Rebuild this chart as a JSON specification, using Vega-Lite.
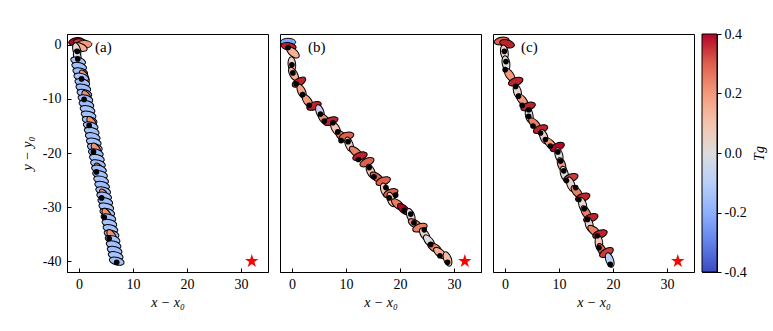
{
  "$schema": "https://vega.github.io/schema/vega-lite/v6.json",
  "background": "white",
  "padding": {"left": 19, "top": 26, "right": 5, "bottom": 5},
  "config": {
    "view": {"stroke": "black", "strokeWidth": 1},
    "font": "Liberation Serif",
    "axis": {"domainColor": "black", "tickColor": "black", "labelColor": "black", "titleColor": "black", "labelFont": "Liberation Serif", "titleFont": "Liberation Serif", "labelFontSize": 14, "titleFontSize": 14, "titleFontWeight": "normal", "grid": false}
  },
  "datasets": {
    "ell": [
      {"p":"a","x":-0.5,"y":0.6,"tg":0.4,"ang":-10},
      {"p":"a","x":0.4,"y":0.4,"tg":0.35,"ang":10},
      {"p":"a","x":1.0,"y":0.1,"tg":0.2,"ang":0},
      {"p":"a","x":0.2,"y":-0.4,"tg":0.15,"ang":20},
      {"p":"a","x":-0.4,"y":-1.0,"tg":0.02,"ang":75},
      {"p":"a","x":-0.3,"y":-2.2,"tg":-0.05,"ang":80},
      {"p":"a","x":-0.14,"y":-3,"tg":-0.14,"ang":15},
      {"p":"a","x":0.05,"y":-4,"tg":-0.15,"ang":15},
      {"p":"a","x":0.25,"y":-5,"tg":-0.16,"ang":15},
      {"p":"a","x":1.0,"y":-5.9,"tg":0.22,"ang":60},
      {"p":"a","x":0.44,"y":-6,"tg":-0.14,"ang":15},
      {"p":"a","x":0.63,"y":-7,"tg":-0.15,"ang":15},
      {"p":"a","x":0.82,"y":-8,"tg":-0.16,"ang":15},
      {"p":"a","x":1.02,"y":-9,"tg":-0.14,"ang":15},
      {"p":"a","x":1.47,"y":-9.7,"tg":0.22,"ang":60},
      {"p":"a","x":1.21,"y":-10,"tg":-0.15,"ang":15},
      {"p":"a","x":1.40,"y":-11,"tg":-0.16,"ang":15},
      {"p":"a","x":1.60,"y":-12,"tg":-0.14,"ang":15},
      {"p":"a","x":1.79,"y":-13,"tg":-0.15,"ang":15},
      {"p":"a","x":1.98,"y":-14,"tg":-0.16,"ang":15},
      {"p":"a","x":2.4,"y":-14.5,"tg":0.22,"ang":60},
      {"p":"a","x":2.18,"y":-15,"tg":-0.14,"ang":15},
      {"p":"a","x":2.37,"y":-16,"tg":-0.15,"ang":15},
      {"p":"a","x":2.56,"y":-17,"tg":-0.16,"ang":15},
      {"p":"a","x":2.75,"y":-18,"tg":-0.14,"ang":15},
      {"p":"a","x":2.95,"y":-19,"tg":-0.15,"ang":15},
      {"p":"a","x":3.2,"y":-19.4,"tg":0.22,"ang":60},
      {"p":"a","x":3.14,"y":-20,"tg":-0.16,"ang":15},
      {"p":"a","x":3.33,"y":-21,"tg":-0.14,"ang":15},
      {"p":"a","x":3.53,"y":-22,"tg":-0.15,"ang":15},
      {"p":"a","x":3.75,"y":-23.1,"tg":0.22,"ang":60},
      {"p":"a","x":3.72,"y":-23,"tg":-0.16,"ang":15},
      {"p":"a","x":3.91,"y":-24,"tg":-0.14,"ang":15},
      {"p":"a","x":4.11,"y":-25,"tg":-0.15,"ang":15},
      {"p":"a","x":4.30,"y":-26,"tg":-0.16,"ang":15},
      {"p":"a","x":4.49,"y":-27,"tg":-0.14,"ang":15},
      {"p":"a","x":4.7,"y":-27.9,"tg":0.22,"ang":60},
      {"p":"a","x":4.68,"y":-28,"tg":-0.15,"ang":15},
      {"p":"a","x":4.88,"y":-29,"tg":-0.16,"ang":15},
      {"p":"a","x":5.07,"y":-30,"tg":-0.14,"ang":15},
      {"p":"a","x":5.26,"y":-31,"tg":-0.15,"ang":15},
      {"p":"a","x":5.2,"y":-31.5,"tg":0.22,"ang":60},
      {"p":"a","x":5.46,"y":-32,"tg":-0.16,"ang":15},
      {"p":"a","x":5.65,"y":-33,"tg":-0.14,"ang":15},
      {"p":"a","x":5.84,"y":-34,"tg":-0.15,"ang":15},
      {"p":"a","x":6.04,"y":-35,"tg":-0.16,"ang":15},
      {"p":"a","x":6.1,"y":-35.4,"tg":0.22,"ang":60},
      {"p":"a","x":6.23,"y":-36,"tg":-0.14,"ang":15},
      {"p":"a","x":6.42,"y":-37,"tg":-0.15,"ang":15},
      {"p":"a","x":6.61,"y":-38,"tg":-0.16,"ang":15},
      {"p":"a","x":6.81,"y":-39,"tg":-0.14,"ang":15},
      {"p":"a","x":7.00,"y":-40,"tg":-0.15,"ang":15},

      {"p":"b","x":-0.7,"y":0.5,"tg":-0.22,"ang":0},
      {"p":"b","x":-0.6,"y":-0.3,"tg":0.38,"ang":10},
      {"p":"b","x":0.2,"y":-1.4,"tg":0.15,"ang":40},
      {"p":"b","x":0.0,"y":-3.6,"tg":0.05,"ang":85},
      {"p":"b","x":0.3,"y":-5.4,"tg":0.15,"ang":60},
      {"p":"b","x":1.3,"y":-6.9,"tg":0.38,"ang":-30},
      {"p":"b","x":1.8,"y":-8.6,"tg":0.18,"ang":65},
      {"p":"b","x":2.9,"y":-10.4,"tg":0.2,"ang":55},
      {"p":"b","x":4.1,"y":-11.3,"tg":0.38,"ang":-20},
      {"p":"b","x":5.2,"y":-12.4,"tg":-0.08,"ang":70},
      {"p":"b","x":6.0,"y":-13.8,"tg":0.22,"ang":45},
      {"p":"b","x":7.2,"y":-14.1,"tg":0.38,"ang":-20},
      {"p":"b","x":8.1,"y":-15.5,"tg":0.08,"ang":60},
      {"p":"b","x":9.2,"y":-16.9,"tg":0.25,"ang":45},
      {"p":"b","x":10.1,"y":-16.9,"tg":0.3,"ang":-15},
      {"p":"b","x":10.6,"y":-18.4,"tg":0.05,"ang":70},
      {"p":"b","x":11.8,"y":-19.8,"tg":0.25,"ang":40},
      {"p":"b","x":12.6,"y":-20.6,"tg":0.38,"ang":-20},
      {"p":"b","x":13.9,"y":-21.7,"tg":0.3,"ang":-25},
      {"p":"b","x":14.6,"y":-23.4,"tg":0.1,"ang":65},
      {"p":"b","x":15.7,"y":-24.5,"tg":0.3,"ang":35},
      {"p":"b","x":16.9,"y":-25.2,"tg":0.3,"ang":-20},
      {"p":"b","x":17.2,"y":-26.9,"tg":0.08,"ang":70},
      {"p":"b","x":18.3,"y":-27.4,"tg":0.3,"ang":-20},
      {"p":"b","x":18.4,"y":-28.6,"tg":0.1,"ang":70},
      {"p":"b","x":19.6,"y":-29.5,"tg":0.25,"ang":40},
      {"p":"b","x":20.7,"y":-30.4,"tg":0.4,"ang":40},
      {"p":"b","x":22.0,"y":-31.6,"tg":-0.06,"ang":70},
      {"p":"b","x":22.8,"y":-33.1,"tg":0.25,"ang":30},
      {"p":"b","x":23.7,"y":-33.8,"tg":0.25,"ang":-20},
      {"p":"b","x":24.6,"y":-35.1,"tg":0.03,"ang":55},
      {"p":"b","x":25.4,"y":-36.3,"tg":0.0,"ang":50},
      {"p":"b","x":26.4,"y":-37.5,"tg":0.25,"ang":30},
      {"p":"b","x":27.4,"y":-38.5,"tg":0.15,"ang":40},
      {"p":"b","x":28.8,"y":-39.6,"tg":0.12,"ang":70},

      {"p":"c","x":-0.6,"y":0.7,"tg":0.3,"ang":-10},
      {"p":"c","x":0.4,"y":0.2,"tg":0.38,"ang":15},
      {"p":"c","x":-0.1,"y":-1.4,"tg":0.05,"ang":80},
      {"p":"c","x":0.2,"y":-3.4,"tg":0.0,"ang":80},
      {"p":"c","x":0.9,"y":-5.6,"tg":0.2,"ang":55},
      {"p":"c","x":2.0,"y":-6.8,"tg":0.38,"ang":-20},
      {"p":"c","x":2.3,"y":-8.6,"tg":0.03,"ang":75},
      {"p":"c","x":3.2,"y":-10.2,"tg":0.2,"ang":50},
      {"p":"c","x":4.3,"y":-11.4,"tg":0.38,"ang":-20},
      {"p":"c","x":4.5,"y":-13.0,"tg":0.0,"ang":80},
      {"p":"c","x":5.5,"y":-14.6,"tg":0.25,"ang":45},
      {"p":"c","x":6.6,"y":-15.6,"tg":0.38,"ang":-20},
      {"p":"c","x":7.2,"y":-17.0,"tg":0.05,"ang":70},
      {"p":"c","x":8.4,"y":-18.3,"tg":0.2,"ang":45},
      {"p":"c","x":9.7,"y":-18.9,"tg":0.4,"ang":-25},
      {"p":"c","x":10.0,"y":-20.4,"tg":0.0,"ang":75},
      {"p":"c","x":10.5,"y":-22.2,"tg":0.2,"ang":70},
      {"p":"c","x":11.0,"y":-23.8,"tg":0.0,"ang":75},
      {"p":"c","x":12.2,"y":-24.6,"tg":0.35,"ang":-20},
      {"p":"c","x":12.2,"y":-25.8,"tg":0.05,"ang":70},
      {"p":"c","x":13.3,"y":-27.2,"tg":0.25,"ang":50},
      {"p":"c","x":14.4,"y":-28.2,"tg":0.38,"ang":-20},
      {"p":"c","x":14.4,"y":-29.6,"tg":0.02,"ang":75},
      {"p":"c","x":15.0,"y":-31.0,"tg":0.25,"ang":60},
      {"p":"c","x":15.9,"y":-32.0,"tg":0.38,"ang":-20},
      {"p":"c","x":15.6,"y":-33.2,"tg":0.03,"ang":75},
      {"p":"c","x":16.5,"y":-34.4,"tg":0.25,"ang":40},
      {"p":"c","x":17.6,"y":-35.0,"tg":0.38,"ang":-20},
      {"p":"c","x":17.4,"y":-36.6,"tg":0.08,"ang":85},
      {"p":"c","x":18.0,"y":-38.0,"tg":0.3,"ang":60},
      {"p":"c","x":18.8,"y":-38.4,"tg":0.35,"ang":-30},
      {"p":"c","x":19.4,"y":-39.8,"tg":-0.1,"ang":70}
    ],
    "dots": [
      {"p":"a","x":-0.3,"y":-1.2},{"p":"a","x":-0.2,"y":-2.6},{"p":"a","x":0.5,"y":-6.3},{"p":"a","x":0.97,"y":-10.1},{"p":"a","x":1.9,"y":-14.9},{"p":"a","x":2.7,"y":-19.8},{"p":"a","x":3.25,"y":-23.5},{"p":"a","x":4.2,"y":-28.3},{"p":"a","x":4.7,"y":-31.9},{"p":"a","x":5.6,"y":-35.8},{"p":"a","x":7.0,"y":-40.2},
      {"p":"b","x":-0.7,"y":-0.5},{"p":"b","x":0,"y":-3.7},{"p":"b","x":0.18,"y":-5.2},{"p":"b","x":0.8,"y":-7.2},{"p":"b","x":2.0,"y":-9.2},{"p":"b","x":3.2,"y":-11.2},{"p":"b","x":5.3,"y":-12.8},{"p":"b","x":6.0,"y":-14.1},{"p":"b","x":7.6,"y":-14.4},{"p":"b","x":8.5,"y":-16.1},{"p":"b","x":9.1,"y":-17.7},{"p":"b","x":10.4,"y":-17.9},{"p":"b","x":12.3,"y":-21.2},{"p":"b","x":14.3,"y":-22.7},{"p":"b","x":15.2,"y":-24.4},{"p":"b","x":17.4,"y":-26.4},{"p":"b","x":18.0,"y":-28.3},{"p":"b","x":19.2,"y":-27.8},{"p":"b","x":20.8,"y":-30.6},{"p":"b","x":22.0,"y":-31.3},{"p":"b","x":22.6,"y":-32.9},{"p":"b","x":24.5,"y":-34.2},{"p":"b","x":25.7,"y":-36.9},{"p":"b","x":27.4,"y":-39.0},{"p":"b","x":28.8,"y":-40.2},
      {"p":"c","x":-0.1,"y":-1.2},{"p":"c","x":0.2,"y":-3.1},{"p":"c","x":0.05,"y":-4.6},{"p":"c","x":2.0,"y":-7.7},{"p":"c","x":2.5,"y":-9.5},{"p":"c","x":3.2,"y":-11.2},{"p":"c","x":4.4,"y":-12.0},{"p":"c","x":4.4,"y":-13.2},{"p":"c","x":5.2,"y":-15.0},{"p":"c","x":6.6,"y":-16.3},{"p":"c","x":7.5,"y":-17.5},{"p":"c","x":8.4,"y":-18.7},{"p":"c","x":9.8,"y":-19.8},{"p":"c","x":10.3,"y":-21.5},{"p":"c","x":10.9,"y":-23.3},{"p":"c","x":11.4,"y":-25.1},{"p":"c","x":13.1,"y":-26.4},{"p":"c","x":13.7,"y":-28.6},{"p":"c","x":14.7,"y":-30.3},{"p":"c","x":15.3,"y":-32.3},{"p":"c","x":17.1,"y":-35.3},{"p":"c","x":17.4,"y":-37.5},{"p":"c","x":19.5,"y":-40.6}
    ],
    "stars": [
      {"p":"a","x":32,"y":-40,"label":"(a)"},
      {"p":"b","x":32,"y":-40,"label":"(b)"},
      {"p":"c","x":32,"y":-40,"label":"(c)"}
    ],
    "cbar": [{"lo":-0.4,"hi":0.4}]
  },
  "spacing": 9,
  "hconcat": [
    {
      "width": 201, "height": 238,
      "layer": [
        {"data": {"name": "ell"}, "transform": [{"filter": "datum.p === 'a'"}],
         "mark": {"type": "point", "shape": "M-1,0A1,0.5,0,1,1,1,0A1,0.5,0,1,1,-1,0Z", "filled": true, "size": 230, "stroke": "black", "strokeWidth": 1, "opacity": 1},
         "encoding": {
           "x": {"field": "x", "type": "quantitative", "scale": {"domain": [-2.2, 35], "nice": false, "zero": false}, "axis": {"title": "x − x₀", "titleFontStyle": "italic", "values": [0,10,20,30], "tickSize": -4, "labelPadding": 9, "titlePadding": 4, "labelExpr": "'' + datum.value"}},
           "y": {"field": "y", "type": "quantitative", "scale": {"domain": [-42, 2], "nice": false, "zero": false}, "axis": {"title": "y − y₀", "titleFontStyle": "italic", "values": [0,-10,-20,-30,-40], "tickSize": -4, "labelPadding": 10, "titlePadding": 8, "labelExpr": "'' + datum.value"}},
           "color": {"field": "tg", "type": "quantitative", "scale": {"domain": [-0.4,-0.3,-0.2,-0.1,0,0.1,0.2,0.3,0.4], "range": ["#3b4cc0","#6282ea","#8db0fe","#b8d0f9","#dddcdc","#f5c4ad","#f49a7b","#de604d","#b40426"]}, "legend": null},
           "angle": {"field": "ang", "type": "quantitative", "scale": null}
         }},
        {"data": {"name": "dots"}, "transform": [{"filter": "datum.p === 'a'"}],
         "mark": {"type": "circle", "size": 32, "color": "black", "opacity": 1},
         "encoding": {"x": {"field": "x", "type": "quantitative"}, "y": {"field": "y", "type": "quantitative"}}},
        {"data": {"name": "stars"}, "transform": [{"filter": "datum.p === 'a'"}],
         "mark": {"type": "point", "shape": "M0,-1L0.2245,-0.309L0.951,-0.309L0.363,0.118L0.588,0.809L0,0.382L-0.588,0.809L-0.363,0.118L-0.951,-0.309L-0.2245,-0.309Z", "filled": true, "color": "#ff0000", "size": 200, "opacity": 1},
         "encoding": {"x": {"field": "x", "type": "quantitative"}, "y": {"field": "y", "type": "quantitative"}}},
        {"data": {"name": "stars"}, "transform": [{"filter": "datum.p === 'a'"}],
         "mark": {"type": "text", "align": "left", "baseline": "middle", "fontSize": 15, "font": "Liberation Serif", "color": "black"},
         "encoding": {"x": {"datum": 3.0}, "y": {"datum": -0.4}, "text": {"field": "label"}}}
      ]
    },
    {
      "width": 201, "height": 238,
      "layer": [
        {"data": {"name": "ell"}, "transform": [{"filter": "datum.p === 'b'"}],
         "mark": {"type": "point", "shape": "M-1,0A1,0.5,0,1,1,1,0A1,0.5,0,1,1,-1,0Z", "filled": true, "size": 230, "stroke": "black", "strokeWidth": 1, "opacity": 1},
         "encoding": {
           "x": {"field": "x", "type": "quantitative", "scale": {"domain": [-2.2, 35], "nice": false, "zero": false}, "axis": {"title": "x − x₀", "titleFontStyle": "italic", "values": [0,10,20,30], "tickSize": -4, "labelPadding": 9, "titlePadding": 4, "labelExpr": "'' + datum.value"}},
           "y": {"field": "y", "type": "quantitative", "scale": {"domain": [-42, 2], "nice": false, "zero": false}, "axis": null},
           "color": {"field": "tg", "type": "quantitative", "scale": {"domain": [-0.4,-0.3,-0.2,-0.1,0,0.1,0.2,0.3,0.4], "range": ["#3b4cc0","#6282ea","#8db0fe","#b8d0f9","#dddcdc","#f5c4ad","#f49a7b","#de604d","#b40426"]}, "legend": null},
           "angle": {"field": "ang", "type": "quantitative", "scale": null}
         }},
        {"data": {"name": "dots"}, "transform": [{"filter": "datum.p === 'b'"}],
         "mark": {"type": "circle", "size": 32, "color": "black", "opacity": 1},
         "encoding": {"x": {"field": "x", "type": "quantitative"}, "y": {"field": "y", "type": "quantitative"}}},
        {"data": {"name": "stars"}, "transform": [{"filter": "datum.p === 'b'"}],
         "mark": {"type": "point", "shape": "M0,-1L0.2245,-0.309L0.951,-0.309L0.363,0.118L0.588,0.809L0,0.382L-0.588,0.809L-0.363,0.118L-0.951,-0.309L-0.2245,-0.309Z", "filled": true, "color": "#ff0000", "size": 200, "opacity": 1},
         "encoding": {"x": {"field": "x", "type": "quantitative"}, "y": {"field": "y", "type": "quantitative"}}},
        {"data": {"name": "stars"}, "transform": [{"filter": "datum.p === 'b'"}],
         "mark": {"type": "text", "align": "left", "baseline": "middle", "fontSize": 15, "font": "Liberation Serif", "color": "black"},
         "encoding": {"x": {"datum": 3.0}, "y": {"datum": -0.4}, "text": {"field": "label"}}}
      ]
    },
    {
      "spacing": 6,
      "hconcat": [
        {
          "width": 201, "height": 238,
          "layer": [
            {"data": {"name": "ell"}, "transform": [{"filter": "datum.p === 'c'"}],
             "mark": {"type": "point", "shape": "M-1,0A1,0.5,0,1,1,1,0A1,0.5,0,1,1,-1,0Z", "filled": true, "size": 230, "stroke": "black", "strokeWidth": 1, "opacity": 1},
             "encoding": {
               "x": {"field": "x", "type": "quantitative", "scale": {"domain": [-2.2, 35], "nice": false, "zero": false}, "axis": {"title": "x − x₀", "titleFontStyle": "italic", "values": [0,10,20,30], "tickSize": -4, "labelPadding": 9, "titlePadding": 4, "labelExpr": "'' + datum.value"}},
               "y": {"field": "y", "type": "quantitative", "scale": {"domain": [-42, 2], "nice": false, "zero": false}, "axis": null},
               "color": {"field": "tg", "type": "quantitative", "scale": {"domain": [-0.4,-0.3,-0.2,-0.1,0,0.1,0.2,0.3,0.4], "range": ["#3b4cc0","#6282ea","#8db0fe","#b8d0f9","#dddcdc","#f5c4ad","#f49a7b","#de604d","#b40426"]}, "legend": null},
               "angle": {"field": "ang", "type": "quantitative", "scale": null}
             }},
            {"data": {"name": "dots"}, "transform": [{"filter": "datum.p === 'c'"}],
             "mark": {"type": "circle", "size": 32, "color": "black", "opacity": 1},
             "encoding": {"x": {"field": "x", "type": "quantitative"}, "y": {"field": "y", "type": "quantitative"}}},
            {"data": {"name": "stars"}, "transform": [{"filter": "datum.p === 'c'"}],
             "mark": {"type": "point", "shape": "M0,-1L0.2245,-0.309L0.951,-0.309L0.363,0.118L0.588,0.809L0,0.382L-0.588,0.809L-0.363,0.118L-0.951,-0.309L-0.2245,-0.309Z", "filled": true, "color": "#ff0000", "size": 200, "opacity": 1},
             "encoding": {"x": {"field": "x", "type": "quantitative"}, "y": {"field": "y", "type": "quantitative"}}},
            {"data": {"name": "stars"}, "transform": [{"filter": "datum.p === 'c'"}],
             "mark": {"type": "text", "align": "left", "baseline": "middle", "fontSize": 15, "font": "Liberation Serif", "color": "black"},
             "encoding": {"x": {"datum": 3.0}, "y": {"datum": -0.4}, "text": {"field": "label"}}}
          ]
        },
        {
          "width": 15, "height": 238,
          "data": {"name": "cbar"},
          "mark": {"type": "rect", "stroke": "black", "strokeWidth": 1,
                   "color": {"gradient": "linear", "x1": 0, "y1": 1, "x2": 0, "y2": 0,
                             "stops": [{"offset": 0, "color": "#3b4cc0"}, {"offset": 0.125, "color": "#6282ea"}, {"offset": 0.25, "color": "#8db0fe"}, {"offset": 0.375, "color": "#b8d0f9"}, {"offset": 0.5, "color": "#dddcdc"}, {"offset": 0.625, "color": "#f5c4ad"}, {"offset": 0.75, "color": "#f49a7b"}, {"offset": 0.875, "color": "#de604d"}, {"offset": 1, "color": "#b40426"}]}},
          "encoding": {
            "x": {"datum": 0, "type": "quantitative", "scale": {"domain": [0, 1], "nice": false}, "axis": null},
            "x2": {"datum": 1},
            "y": {"field": "lo", "type": "quantitative", "scale": {"domain": [-0.4, 0.4], "nice": false, "zero": false}, "axis": {"orient": "right", "title": "Tg", "titleFontStyle": "italic", "titleAngle": 270, "titlePadding": 20, "values": [-0.4,-0.2,0,0.2,0.4], "tickSize": 4, "labelPadding": 3, "labelExpr": "replace(format(datum.value, '.1f'), '−', '-')"}},
            "y2": {"field": "hi"}
          }
        }
      ]
    }
  ]
}
